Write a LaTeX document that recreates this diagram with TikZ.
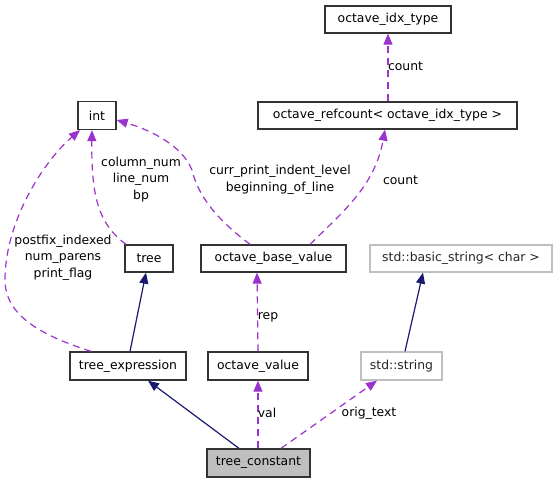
\documentclass[tikz,border=0pt]{standalone}
\usepackage{fontspec}
\setmainfont{DejaVu Sans}
\usetikzlibrary{arrows.meta}
\definecolor{dpurple}{HTML}{9A32CD}
\definecolor{dnavy}{HTML}{191970}
\definecolor{dgray}{HTML}{BFBFBF}
\tikzset{
  cls/.style={draw=black!80, line width=1.3pt, fill=white, inner sep=0pt, font=\fontsize{12.4}{14}\selectfont},
  ext/.style={draw=dgray, line width=1.3pt, fill=white, inner sep=0pt, text=black!85, font=\fontsize{12.4}{14}\selectfont},
  uses/.style={draw=dpurple, line width=1.2pt, dash pattern=on 7pt off 5pt, -{Triangle[length=11pt,width=9pt]}, dpurple},
  inh/.style={draw=dnavy, line width=1.2pt, -{Triangle[length=11pt,width=9pt]}, dnavy},
  lbl/.style={font=\fontsize{12.4}{16.5}\selectfont, align=center, text=black, inner sep=1pt}
}
\begin{document}
\begin{tikzpicture}[x=1pt,y=-1pt]
\useasboundingbox (0,0) rectangle (559,483);
% nodes
\node[cls, minimum width=126pt, minimum height=27pt] (idx) at (388,19.5) {octave\_idx\_type};
\node[cls, minimum width=259pt, minimum height=27pt] (ref) at (387.5,115.5) {octave\_refcount< octave\_idx\_type >};
\node[cls, minimum width=38pt, minimum height=28pt] (int) at (97,115.5) {int};
\node[cls, minimum width=48pt, minimum height=27pt] (tree) at (149,258.5) {tree};
\node[cls, minimum width=145pt, minimum height=27pt] (obv) at (273.5,258.5) {octave\_base\_value};
\node[ext, minimum width=182pt, minimum height=27pt] (bstr) at (461,258.5) {std::basic\_string< char >};
\node[cls, minimum width=116pt, minimum height=28pt] (texpr) at (128,366) {tree\_expression};
\node[cls, minimum width=100pt, minimum height=28pt] (oval) at (258,366) {octave\_value};
\node[ext, minimum width=81pt, minimum height=28pt] (str) at (401.5,366) {std::string};
\node[cls, fill=dgray, minimum width=103pt, minimum height=28pt] (tc) at (258.5,463) {tree\_constant};
% inheritance
\draw[inh] (tc.north -| 239,0) -- (texpr.south -| 148,0);
\draw[inh] (texpr.north -| 130,0) -- (tree.south -| 146,0);
\draw[inh] (str.north -| 405,0) -- (bstr.south -| 423,0);
% usage
\draw[uses] (tc.north -| 258,0) -- (oval.south -| 258,0);
\node[lbl] (lval) at (267,413) {val};
\draw[uses] (tc.north -| 281,0) -- (str.south -| 377,0);
\node[lbl] (lorig) at (369,413) {orig\_text};
\draw[uses] (oval.north -| 258,0) -- (obv.south -| 257,0);
\node[lbl] (lrep) at (268,317) {rep};
\draw[uses] (ref.north -| 388,0) -- (idx.south -| 388,0);
\node[lbl] (lc1) at (405.5,66) {count};
\draw[uses] (obv.north -| 310,0) .. controls (345,210) and (375,185) .. (ref.south -| 385,0);
\node[lbl] (lc2) at (400.5,180) {count};
\draw[uses] (obv.north -| 250,0) .. controls (215,218) and (198,195) .. (192,170) .. controls (182,145) and (150,130) .. (int.east |- 0,120);
\node[lbl] (lcurr) at (280,179.5) {curr\_print\_indent\_level\\beginning\_of\_line};
\draw[uses] (tree.north -| 126,0) .. controls (100,225) and (91,200) .. (int.south -| 92,0);
\node[lbl] (lcol) at (141,179.5) {column\_num\\line\_num\\bp};
\draw[uses] (texpr.north -| 91,0) .. controls (40,335) and (5,315) .. (5,280) .. controls (5,220) and (45,160) .. (int.south -| 80,0);
\node[lbl] (lpost) at (63,257.5) {postfix\_indexed\\num\_parens\\print\_flag};
\end{tikzpicture}
\end{document}
